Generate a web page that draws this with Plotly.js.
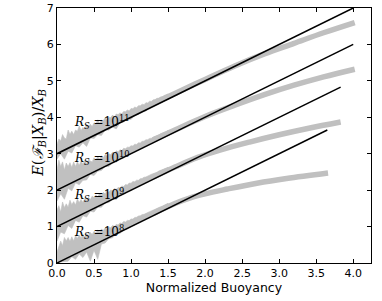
<!DOCTYPE html>
<html>
<head>
<meta charset="utf-8">
<script src="https://cdn.plot.ly/plotly-3.0.1.min.js"></script>
<style>html,body{margin:0;padding:0;background:#fff;}#chart{width:382px;height:301px;}</style>
</head>
<body>
<div id="chart"></div>
<script>
// ---- data ----
var labelExps = ["11", "10", "9", "8"];
var labelY = [3.88, 2.87, 1.87, 0.86];
var labelX = 0.2;

// noisy part: upper edge on a fine grid, lower edge on a coarse grid
var fineX = [0.000,0.025,0.050,0.075,0.100,0.125,0.150,0.175,0.200,0.225,0.250,0.275,0.300,0.325,0.350,0.375,0.400,0.425,0.450,0.475,0.500,0.525,0.550,0.575,0.600,0.625,0.650,0.675,0.700,0.725,0.750,0.775,0.800,0.825,0.850,0.875,0.900,0.925,0.950,0.975,1.000,1.025,1.050,1.075,1.100,1.125,1.150,1.175,1.200,1.225,1.250,1.275,1.300,1.325,1.350,1.375,1.400,1.425,1.450,1.475,1.500];
var coarseX = [0.00,0.05,0.10,0.15,0.20,0.25,0.30,0.35,0.40,0.45,0.50,0.55,0.60,0.65,0.70,0.75,0.80,0.85,0.90,0.95,1.00,1.05,1.10,1.15,1.20,1.25,1.30,1.35,1.40,1.45,1.50];

var upper11 = [3.25,3.405,3.35,3.525,3.43,3.405,3.65,3.535,3.62,3.525,3.65,3.615,3.76,3.635,3.72,3.665,3.81,3.755,3.81,3.745,3.85,3.825,3.93,3.835,3.92,3.905,3.99,3.925,4.00,3.995,4.06,4.005,4.09,4.075,4.12,4.095,4.16,4.155,4.20,4.175,4.24,4.235,4.28,4.265,4.32,4.315,4.36,4.345,4.40,4.395,4.44,4.435,4.48,4.485,4.52,4.525,4.56,4.565,4.60,4.615,4.64];
var lower11 = [2.85,3.00,2.85,3.07,3.02,3.22,3.18,3.30,3.20,3.43,3.42,3.52,3.50,3.65,3.65,3.73,3.68,3.85,3.87,3.95,3.94,4.06,4.08,4.16,4.17,4.27,4.30,4.37,4.41,4.47,4.52];

var upper10 = [2.55,2.825,2.65,2.775,2.55,2.745,2.65,2.755,2.62,2.775,2.65,2.775,2.68,2.795,2.71,2.815,2.73,2.835,2.80,2.775,2.89,2.835,2.91,2.855,2.94,2.895,2.97,2.935,3.00,2.975,3.04,3.005,3.08,3.055,3.11,3.085,3.15,3.135,3.18,3.175,3.22,3.215,3.26,3.255,3.30,3.295,3.34,3.345,3.38,3.385,3.42,3.425,3.46,3.475,3.50,3.515,3.55,3.565,3.59,3.605,3.64];
var lower10 = [1.70,1.90,1.75,2.05,1.98,2.20,2.15,2.27,2.28,2.43,2.40,2.52,2.54,2.65,2.65,2.75,2.77,2.86,2.88,2.96,3.00,3.07,3.10,3.17,3.21,3.27,3.32,3.38,3.42,3.48,3.53];

var upper9 = [1.45,1.575,1.40,1.675,1.52,1.625,1.53,1.725,1.60,1.685,1.59,1.755,1.66,1.745,1.66,1.775,1.73,1.805,1.74,1.835,1.80,1.865,1.82,1.905,1.87,1.935,1.90,1.975,1.94,2.005,1.98,2.045,2.02,2.075,2.06,2.115,2.10,2.155,2.14,2.195,2.19,2.235,2.23,2.275,2.27,2.315,2.32,2.355,2.36,2.395,2.41,2.435,2.45,2.485,2.49,2.525,2.54,2.565,2.59,2.605,2.63];
var lower9 = [0.60,0.85,0.80,1.03,0.95,1.17,1.12,1.30,1.26,1.42,1.40,1.53,1.53,1.65,1.66,1.75,1.74,1.86,1.88,1.96,1.99,2.07,2.10,2.17,2.21,2.27,2.32,2.38,2.42,2.48,2.53];

var upper8 = [0.30,0.475,0.60,0.475,0.70,0.605,0.70,0.595,0.72,0.605,0.75,0.675,0.77,0.685,0.79,0.715,0.82,0.755,0.84,0.785,0.87,0.825,0.90,0.855,0.93,0.895,0.96,0.925,0.99,0.965,1.03,1.005,1.06,1.045,1.10,1.085,1.14,1.125,1.17,1.165,1.21,1.205,1.25,1.255,1.29,1.295,1.33,1.335,1.37,1.385,1.41,1.425,1.46,1.475,1.50,1.515,1.55,1.565,1.59,1.615,1.64];
var lower8 = [0.00,0.03,0.05,0.05,0.17,0.10,0.25,0.15,0.30,0.05,0.35,0.10,0.52,0.55,0.67,0.69,0.80,0.81,0.91,0.93,1.00,1.06,1.10,1.17,1.21,1.27,1.32,1.37,1.43,1.48,1.53];

// smooth part of the simulated mean (thick grey)
var smoothX11 = [1.3,1.6,2.0,2.4,2.8,3.2,3.6,4.02];
var smoothY11 = [4.38,4.66,5.04,5.41,5.74,6.03,6.32,6.60];
var smoothX10 = [1.3,1.6,2.0,2.4,2.8,3.2,3.6,4.02];
var smoothY10 = [3.38,3.66,4.02,4.33,4.62,4.88,5.11,5.32];
var smoothX9 = [1.3,1.6,1.9,2.2,2.6,3.0,3.4,3.83];
var smoothY9 = [2.36,2.64,2.90,3.10,3.32,3.52,3.70,3.87];
var smoothX8 = [1.3,1.6,1.8,2.0,2.3,2.7,3.1,3.66];
var smoothY8 = [1.36,1.64,1.79,1.90,2.03,2.19,2.32,2.47];

// theoretical lines (black)
var lineX11 = [0, 4.0],  lineY11 = [3, 7.0];
var lineX10 = [0, 4.0],  lineY10 = [2, 6.0];
var lineX9  = [0, 3.83], lineY9  = [1, 4.83];
var lineX8  = [0, 3.65], lineY8  = [0, 3.65];

var xTicks = [0,0.5,1,1.5,2,2.5,3,3.5,4];
var xTickText = ["0.0","0.5","1.0","1.5","2.0","2.5","3.0","3.5","4.0"];
var yTicks = [0,1,2,3,4,5,6,7];

var xTitle = "Normalized Buoyancy";
var yTitle = "<i>E</i>(<i>ℱ</i><sub><i>B</i></sub>|<i>X</i><sub><i>B</i></sub>)/<i>X</i><sub><i>B</i></sub>";

// ---- build traces ----
var grey = "#c0c0c0";
var uppers = [upper11, upper10, upper9, upper8];
var lowers = [lower11, lower10, lower9, lower8];
var smX = [smoothX11, smoothX10, smoothX9, smoothX8];
var smY = [smoothY11, smoothY10, smoothY9, smoothY8];
var lnX = [lineX11, lineX10, lineX9, lineX8];
var lnY = [lineY11, lineY10, lineY9, lineY8];

var traces = [];
for (var i = 0; i < 4; i++) {
  var revX = coarseX.slice().reverse();
  var revL = lowers[i].slice().reverse();
  traces.push({
    x: fineX.concat(revX), y: uppers[i].concat(revL),
    mode: "lines", fill: "toself", fillcolor: grey,
    line: {color: grey, width: 0.6}, hoverinfo: "skip", showlegend: false
  });
  traces.push({
    x: smX[i], y: smY[i], mode: "lines",
    line: {color: grey, width: 5.5, shape: "spline"}, showlegend: false
  });
}
for (var j = 0; j < 4; j++) {
  traces.push({
    x: lnX[j], y: lnY[j], mode: "lines",
    line: {color: "#000", width: 1.5}, showlegend: false
  });
}

var annotations = [];
for (var k = 0; k < 4; k++) {
  annotations.push({
    x: labelX, y: labelY[k], xref: "x", yref: "y", xanchor: "left", yanchor: "middle",
    text: "<i>R</i><sub><i>S</i></sub> =10<sup>" + labelExps[k] + "</sup>",
    showarrow: false, font: {family: "DejaVu Serif", size: 12, color: "#000"}
  });
}
annotations.push({
  x: -0.058, y: 0.51, xref: "paper", yref: "paper", xanchor: "center", yanchor: "middle",
  text: yTitle, textangle: -90, showarrow: false,
  font: {family: "DejaVu Serif", size: 14.5, color: "#000"}
});

var axisCommon = {
  showline: true, linecolor: "#000", linewidth: 1, mirror: "ticks",
  ticks: "inside", ticklen: 4, tickwidth: 1, tickcolor: "#000",
  showgrid: false, zeroline: false,
  tickfont: {family: "DejaVu Sans", size: 11, color: "#000"}
};

var layout = {
  width: 382, height: 301,
  margin: {l: 57, r: 11, t: 8, b: 38},
  paper_bgcolor: "#fff", plot_bgcolor: "#fff",
  xaxis: Object.assign({}, axisCommon, {
    range: [0, 4.24], tickvals: xTicks, ticktext: xTickText,
    title: {text: xTitle, font: {family: "DejaVu Sans", size: 12.5, color: "#000"}, standoff: 2}
  }),
  yaxis: Object.assign({}, axisCommon, {
    range: [0, 7], tickvals: yTicks
  }),
  annotations: annotations,
  showlegend: false
};

Plotly.newPlot("chart", traces, layout, {staticPlot: true, displayModeBar: false});
</script>
</body>
</html>
